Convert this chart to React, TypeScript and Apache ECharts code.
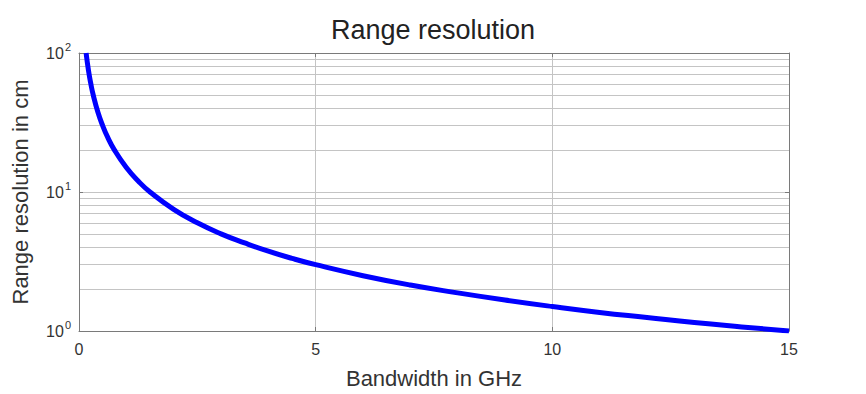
import React, { useEffect, useRef } from "react";
import * as echarts from "echarts";

// Values
const bandwidthGHz = [0.15, 0.2, 0.25, 0.3, 0.4, 0.5, 0.6, 0.75, 1, 1.25, 1.5, 2, 2.5, 3, 3.5, 4, 4.5, 5, 6, 7, 8, 9, 10, 11, 12, 13, 14, 15];
const resolutionCm = [100, 75, 60, 50, 37.5, 30, 25, 20, 15, 12, 10, 7.5, 6, 5, 4.3, 3.75, 3.33, 3, 2.5, 2.14, 1.88, 1.67, 1.5, 1.36, 1.25, 1.15, 1.07, 1];
const xTicks = [0, 5, 10, 15];
const yMajorTicks = [1, 10, 100];
const yMinorGrid = [2, 3, 4, 5, 6, 7, 8, 9, 20, 30, 40, 50, 60, 70, 80, 90];

const FONT = "'Liberation Sans', Arial, sans-serif";
const TEXT = "#333";
const AXIS = "#7a7a7a";
const GRID = "#c4c4c4";

export default function App() {
  const ref = useRef<HTMLDivElement>(null);
  useEffect(() => {
    if (!ref.current) return;
    const chart = echarts.init(ref.current, undefined, { renderer: "svg" });
    const data = bandwidthGHz.map((b, i) => [b, resolutionCm[i]]);
    const expOf = (v: number) => yMajorTicks.indexOf(v) >= 0 ? String(Math.round(Math.log10(v))) : "";
    const common = {
      min: xTicks[0],
      max: xTicks[xTicks.length - 1],
      interval: 5,
    };
    chart.setOption({
      animation: false,
      backgroundColor: "#fff",
      title: {
        text: "Range resolution",
        left: "center",
        top: 11,
        textStyle: { fontFamily: FONT, fontSize: 27, fontWeight: "normal", color: "#222" },
      },
      grid: { left: 79, right: 77, top: 53, bottom: 54 },
      xAxis: [
        {
          type: "value",
          ...common,
          name: "Bandwidth in GHz",
          nameLocation: "middle",
          nameGap: 36,
          nameTextStyle: { fontFamily: FONT, fontSize: 22, color: TEXT },
          axisLine: { show: true, onZero: false, lineStyle: { color: AXIS } },
          axisTick: { show: true, inside: true, length: 4, lineStyle: { color: AXIS } },
          axisLabel: { fontFamily: FONT, fontSize: 16, color: TEXT, margin: 10 },
          splitLine: { show: true, lineStyle: { color: GRID } },
        },
        {
          type: "value",
          ...common,
          position: "top",
          axisLine: { show: true, onZero: false, lineStyle: { color: AXIS } },
          axisTick: { show: true, inside: true, length: 4, lineStyle: { color: AXIS } },
          axisLabel: { show: false },
          splitLine: { show: false },
        },
      ],
      yAxis: [
        {
          type: "log",
          logBase: 10,
          min: 1,
          max: 100,
          name: "Range resolution in cm",
          nameLocation: "middle",
          nameGap: 48,
          nameTextStyle: { fontFamily: FONT, fontSize: 22, color: TEXT },
          axisLine: { show: true, onZero: false, lineStyle: { color: AXIS } },
          axisTick: { show: true, inside: true, length: 4, lineStyle: { color: AXIS } },
          axisLabel: {
            margin: 8,
            formatter: (v: number) => `{b|10}{s|${expOf(v)}}`,
            rich: {
              b: { fontFamily: FONT, fontSize: 16, color: TEXT },
              s: { fontFamily: FONT, fontSize: 11, color: TEXT, padding: [0, 0, 12, 1] },
            },
          },
          splitLine: { show: true, lineStyle: { color: GRID } },
        },
        {
          type: "log",
          logBase: 10,
          min: 1,
          max: 100,
          position: "right",
          axisLine: { show: true, onZero: false, lineStyle: { color: AXIS } },
          axisTick: { show: true, inside: true, length: 4, lineStyle: { color: AXIS } },
          axisLabel: { show: false },
          splitLine: { show: false },
        },
      ],
      series: [
        {
          type: "line",
          data,
          smooth: true,
          showSymbol: false,
          symbol: "none",
          lineStyle: { color: "#0000ff", width: 5 },
          markLine: {
            silent: true,
            symbol: "none",
            label: { show: false },
            lineStyle: { color: GRID, type: "solid", width: 1 },
            data: yMinorGrid.map((v) => ({ yAxis: v })),
            z: 0,
          },
          z: 3,
        },
      ],
    });
    return () => chart.dispose();
  }, []);
  return <div ref={ref} style={{ position: "fixed", left: 0, top: 0, width: 866, height: 394 }} />;
}
